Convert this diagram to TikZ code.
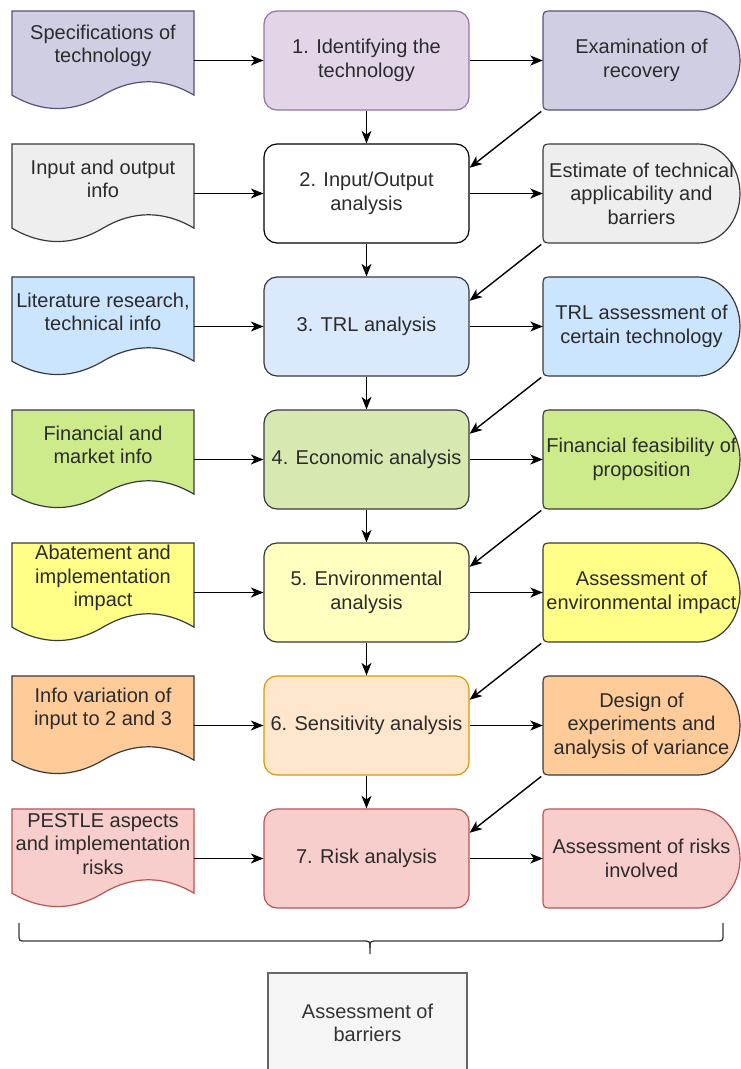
\documentclass[tikz,border=0pt]{standalone}
\usepackage{fontspec}
\setmainfont{Liberation Sans}
\usetikzlibrary{arrows.meta}

% palette
\definecolor{ink}{HTML}{2B2B2B}
\definecolor{purFill}{HTML}{D0CEE2}\definecolor{purLine}{HTML}{56517E}
\definecolor{lilFill}{HTML}{E1D5E7}\definecolor{lilLine}{HTML}{9673A6}
\definecolor{gryFill}{HTML}{EEEEEE}\definecolor{darkLine}{HTML}{36393D}
\definecolor{bluFill}{HTML}{CCE5FF}\definecolor{bluBox}{HTML}{DAE9FC}
\definecolor{grnFill}{HTML}{CDEB8B}\definecolor{grnBox}{HTML}{D7E8B1}
\definecolor{yelFill}{HTML}{FFFF88}\definecolor{yelBox}{HTML}{FFFFC0}
\definecolor{orgFill}{HTML}{FFCC99}\definecolor{orgBox}{HTML}{FFE6CC}\definecolor{orgLine}{HTML}{D79B00}
\definecolor{redFill}{HTML}{F8CECC}\definecolor{redLine}{HTML}{B85450}
\definecolor{barFill}{HTML}{F5F5F5}\definecolor{barLine}{HTML}{666666}\definecolor{barText}{HTML}{333333}

\tikzset{
  every node/.style={font=\fontsize{20}{23.5}\selectfont, text=ink, align=center},
  frame/.style={inner sep=0pt, minimum height=99pt},
  docframe/.style={frame, minimum width=182pt},
  dispframe/.style={frame, minimum width=197pt},
  lbl/.style={inner sep=0pt},
  midbox/.style={draw, line width=1.2pt, rounded corners=13pt,
    minimum width=205pt, minimum height=99pt, inner sep=2pt},
  outline/.style={line width=1.2pt},
  arr/.style={-{Stealth[length=12.5pt,width=10pt,inset=3.5pt]}, line width=1.4pt, draw=black},
  brace/.style={line width=1.3pt, draw=darkLine}
}

% document shape with wavy bottom: top-left corner (#1,#2), width 182, height 99
\newcommand\docshape[4]{%
  \draw[outline, fill=#3, draw=#4]
    (#1,#2) -- ({#1+182},#2) -- ({#1+182},{#2+84.15})
    .. controls ({#1+151.7},{#2+66.3}) and ({#1+121.3},{#2+66.3}) .. ({#1+91},{#2+84.15})
    .. controls ({#1+60.7},{#2+102}) and ({#1+30.3},{#2+102}) .. (#1,{#2+84.15})
    -- cycle;}

% flat left side with rounded corners, elliptic right side: top at #1
\newcommand\dispshape[3]{%
  \draw[outline, fill=#2, draw=#3]
    (553,#1) -- (698,#1)
    .. controls (721.2,#1) and (740,{#1+22.2}) .. (740,{#1+49.5})
    .. controls (740,{#1+76.8}) and (721.2,{#1+99}) .. (698,{#1+99})
    -- (553,{#1+99}) .. controls (543,{#1+99}) .. (543,{#1+89})
    -- (543,{#1+10}) .. controls (543,#1) .. (553,#1) -- cycle;}

\begin{document}
\begin{tikzpicture}[x=1pt,y=-1pt]
\fill[white] (0,0) rectangle (740,1069);
\useasboundingbox (0,0) rectangle (740,1069);

% ---- row 1
\docshape{12}{11}{purFill}{purLine}
\node[docframe] (d1) at (103,60.5) {};
\node[lbl] (d1t) at (103,46) {Specifications of\\technology};
\node[midbox, fill=lilFill, draw=lilLine] (b1) at (366.5,60.5) {1. Identifying the\\technology};
\dispshape{11}{purFill}{purLine}
\node[dispframe] (r1) at (641.5,60.5) {Examination of\\recovery};

% ---- row 2
\docshape{12}{144}{gryFill}{darkLine}
\node[docframe] (d2) at (103,193.5) {};
\node[lbl] (d2t) at (103,179) {Input and output\\info};
\node[midbox, fill=white, draw=black] (b2) at (366.5,193.5) {2. Input/Output\\analysis};
\dispshape{144}{gryFill}{darkLine}
\node[dispframe] (r2) at (641.5,193.5) {Estimate of technical\\applicability and\\barriers};

% ---- row 3
\docshape{12}{277}{bluFill}{darkLine}
\node[docframe] (d3) at (103,326.5) {};
\node[lbl] (d3t) at (103,312) {Literature research,\\technical info};
\node[midbox, fill=bluBox, draw=darkLine] (b3) at (366.5,326.5) {3. TRL analysis};
\dispshape{277}{bluFill}{darkLine}
\node[dispframe] (r3) at (641.5,326.5) {TRL assessment of\\certain technology};

% ---- row 4
\docshape{12}{410}{grnFill}{darkLine}
\node[docframe] (d4) at (103,459.5) {};
\node[lbl] (d4t) at (103,445) {Financial and\\market info};
\node[midbox, fill=grnBox, draw=darkLine] (b4) at (366.5,459.5) {4. Economic analysis};
\dispshape{410}{grnFill}{darkLine}
\node[dispframe] (r4) at (641.5,459.5) {Financial feasibility of\\proposition};

% ---- row 5
\docshape{12}{543}{yelFill}{darkLine}
\node[docframe] (d5) at (103,592.5) {};
\node[lbl] (d5t) at (103,578) {Abatement and\\implementation\\impact};
\node[midbox, fill=yelBox, draw=darkLine] (b5) at (366.5,592.5) {5. Environmental\\analysis};
\dispshape{543}{yelFill}{darkLine}
\node[dispframe] (r5) at (641.5,592.5) {Assessment of\\environmental impact};

% ---- row 6
\docshape{12}{676}{orgFill}{darkLine}
\node[docframe] (d6) at (103,725.5) {};
\node[lbl] (d6t) at (103,709) {Info variation of\\input to 2 and 3};
\node[midbox, fill=orgBox, draw=orgLine] (b6) at (366.5,725.5) {6. Sensitivity analysis};
\dispshape{676}{orgFill}{darkLine}
\node[dispframe] (r6) at (641.5,725.5) {Design of\\experiments and\\analysis of variance};

% ---- row 7
\docshape{12}{809}{redFill}{redLine}
\node[docframe] (d7) at (103,858.5) {};
\node[lbl] (d7t) at (103,844) {PESTLE aspects\\and implementation\\risks};
\node[midbox, fill=redFill, draw=redLine] (b7) at (366.5,858.5) {7. Risk analysis};
\dispshape{809}{redFill}{redLine}
\node[dispframe] (r7) at (641.5,858.5) {Assessment of risks\\involved};

% ---- connectors
\foreach \i in {1,...,7} {
  \draw[arr] (d\i.east) -- (b\i.west);
  \draw[arr] (b\i.east) -- (r\i.west);
}
\foreach \i/\j in {1/2,2/3,3/4,4/5,5/6,6/7} {
  \draw[arr] (b\i.south) -- (b\j.north);
  \draw[arr, shorten <=2pt] (r\i.south west) -- (b\j.14);
}

% ---- brace collecting all rows
\coordinate (brL) at (19,923);
\coordinate (brR) at (723,923);
\coordinate (brTip) at (370,954);
\draw[brace] (brL) -- (19,934) .. controls (19,941) .. (26,941) -- (362,941)
  .. controls (370,941) .. (370,948) -- (brTip);
\draw[brace] (brR) -- (723,934) .. controls (723,941) .. (716,941) -- (378,941)
  .. controls (370,941) .. (370,948);

% ---- result
\node[draw=barLine, fill=barFill, text=barText, line width=1.2pt,
      minimum width=199pt, minimum height=100pt] (bar) at (367.5,1023) {Assessment of\\barriers};
\end{tikzpicture}
\end{document}
